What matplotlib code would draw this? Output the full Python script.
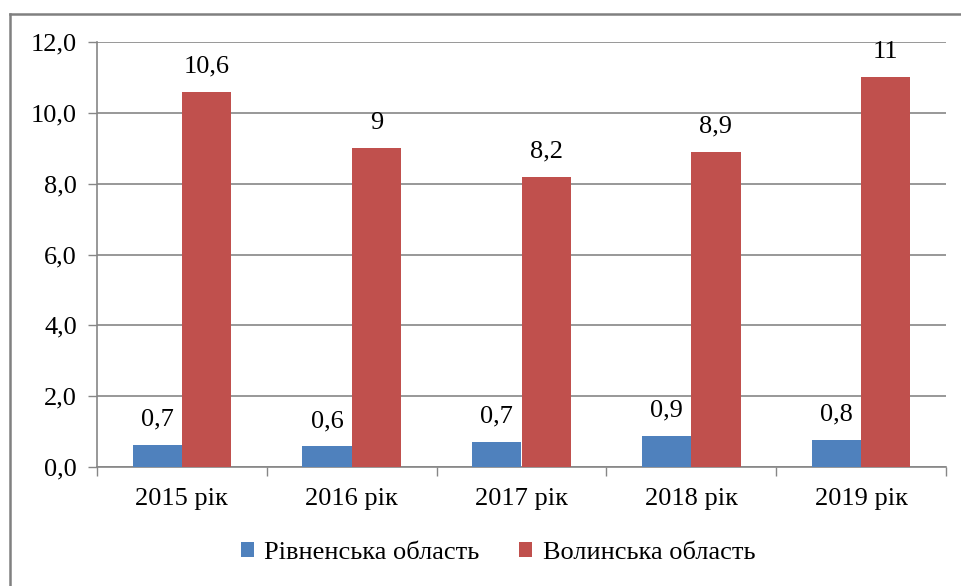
import numpy as np
import matplotlib.pyplot as plt
from matplotlib.lines import Line2D
from matplotlib.ticker import FuncFormatter

years = ['2015 рік', '2016 рік', '2017 рік', '2018 рік', '2019 рік']
rivne = [0.63, 0.59, 0.71, 0.88, 0.77]
volyn = [10.6, 9.0, 8.2, 8.9, 11.0]
rivne_labels = ['0,7', '0,6', '0,7', '0,9', '0,8']
volyn_labels = ['10,6', '9', '8,2', '8,9', '11']
series_names = ['Рівненська область', 'Волинська область']

plt.rcParams['font.family'] = ['Liberation Serif', 'DejaVu Serif']

fig = plt.figure(figsize=(9.62, 5.86), dpi=100)
ax = fig.add_axes([97/962, 1-467/586, (946-97)/962, (467-42)/586])

x = np.arange(len(years))
w = 0.29
b1 = ax.bar(x - w/2, rivne, w, color='#4F81BD', label=series_names[0], zorder=3)
b2 = ax.bar(x + w/2, volyn, w, color='#C0504D', label=series_names[1], zorder=3)

for bars, labs in ((b1, rivne_labels), (b2, volyn_labels)):
    for r, t in zip(bars, labs):
        ax.annotate(t, (r.get_x() + r.get_width()/2, r.get_height()),
                    xytext=(0, 18), textcoords='offset points',
                    ha='center', va='center', fontsize=19)

ax.set_ylim(0, 12)
ax.set_xlim(-0.5, len(years) - 0.5)
ax.set_yticks(np.arange(0, 12.1, 2))
ax.yaxis.set_major_formatter(FuncFormatter(lambda v, p: ('%.1f' % v).replace('.', ',')))
ax.yaxis.grid(True, color='#868686', lw=1.2, zorder=0)

ax.set_xticks(x)
ax.set_xticklabels(years)
ax.set_xticks(np.arange(-0.5, len(years)), minor=True)
ax.tick_params(axis='x', which='major', length=0, pad=15, labelsize=19)
ax.tick_params(axis='x', which='minor', length=6.5, width=1, color='#868686')
ax.tick_params(axis='y', length=6.5, width=1, color='#868686', labelsize=19, pad=8)

for s in ['top', 'right']:
    ax.spines[s].set_visible(False)
for s in ['left', 'bottom']:
    ax.spines[s].set_color('#868686')
    ax.spines[s].set_linewidth(1.2)

fig.legend(loc='center', bbox_to_anchor=(498/962, 1-553/586), ncol=2, frameon=False,
           fontsize=19, handlelength=0.5, handleheight=0.5, handletextpad=0.4,
           columnspacing=1.5)

fig.add_artist(Line2D([10/962, 10/962], [0, 1-14/586], transform=fig.transFigure,
                      color='#808080', lw=1.8))
fig.add_artist(Line2D([10/962, 1], [1-14/586, 1-14/586], transform=fig.transFigure,
                      color='#808080', lw=1.8))

plt.savefig('out.png', dpi=100)
